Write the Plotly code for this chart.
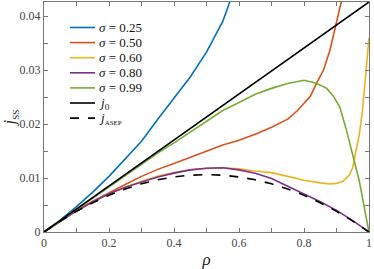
import plotly.graph_objects as go

# ---- data ----
rho_025 = [0, 0.05, 0.1, 0.15, 0.2, 0.25, 0.3, 0.35, 0.4, 0.45, 0.5, 0.55, 0.58]
j_025 = [0, 0.0022, 0.0047, 0.0074, 0.0103, 0.0136, 0.0168, 0.0209, 0.0248, 0.0287, 0.0333, 0.0390, 0.0440]

rho_050 = [0, 0.05, 0.1, 0.15, 0.2, 0.25, 0.3, 0.35, 0.4, 0.45, 0.5, 0.55, 0.6, 0.65, 0.7, 0.75, 0.78, 0.8, 0.82, 0.84, 0.86, 0.88, 0.9, 0.92]
j_050 = [0, 0.0020, 0.0040, 0.0057, 0.0073, 0.0088, 0.0103, 0.0116, 0.0127, 0.0138, 0.0150, 0.0161, 0.0170, 0.0181, 0.0194, 0.0209, 0.0225, 0.0238, 0.0252, 0.0277, 0.0300, 0.0337, 0.0390, 0.0440]

rho_060 = [0, 0.05, 0.1, 0.15, 0.2, 0.25, 0.3, 0.35, 0.4, 0.45, 0.5, 0.55, 0.6, 0.65, 0.7, 0.75, 0.8, 0.85, 0.88, 0.9, 0.92, 0.94, 0.95, 0.96, 0.97, 0.98, 0.99, 1.0]
j_060 = [0, 0.0020, 0.0039, 0.0056, 0.0071, 0.0083, 0.0094, 0.0103, 0.0110, 0.0115, 0.0118, 0.0119, 0.0117, 0.0113, 0.0110, 0.0103, 0.0096, 0.0091, 0.0089, 0.0090, 0.0094, 0.0106, 0.0120, 0.0150, 0.0180, 0.0225, 0.0300, 0.0360]

rho_080 = [0, 0.05, 0.1, 0.15, 0.2, 0.25, 0.3, 0.35, 0.4, 0.45, 0.5, 0.55, 0.6, 0.65, 0.7, 0.75, 0.8, 0.85, 0.9, 0.95, 1.0]
j_080 = [0, 0.0020, 0.0039, 0.0056, 0.0071, 0.0083, 0.0093, 0.0102, 0.0109, 0.0115, 0.0118, 0.0119, 0.0115, 0.0109, 0.0099, 0.0085, 0.0071, 0.0056, 0.0040, 0.0021, 0]

rho_099 = [0, 0.05, 0.1, 0.15, 0.2, 0.25, 0.3, 0.35, 0.4, 0.45, 0.5, 0.55, 0.6, 0.65, 0.7, 0.75, 0.8, 0.83, 0.85, 0.87, 0.89, 0.91, 0.93, 0.95, 0.97, 0.98, 0.99, 1.0]
j_099 = [0, 0.0021, 0.0042, 0.0063, 0.0084, 0.0105, 0.0126, 0.0146, 0.0165, 0.0185, 0.0204, 0.0225, 0.0240, 0.0255, 0.0266, 0.0275, 0.0281, 0.0277, 0.0272, 0.0266, 0.0252, 0.0232, 0.0190, 0.0145, 0.0095, 0.0063, 0.0030, 0]

rho_j0 = [0, 1]
j_0 = [0, 0.0426]

rho_asep = [0, 0.05, 0.1, 0.15, 0.2, 0.25, 0.3, 0.35, 0.4, 0.45, 0.5, 0.55, 0.6, 0.65, 0.7, 0.75, 0.8, 0.85, 0.9, 0.95, 1.0]
j_asep = [0, 0.00202, 0.00383, 0.00542, 0.0068, 0.00797, 0.00893, 0.00967, 0.0102, 0.01052, 0.01063, 0.01052, 0.0102, 0.00967, 0.00893, 0.00797, 0.0068, 0.00542, 0.00383, 0.00202, 0]

x_ticks = [0, 0.2, 0.4, 0.6, 0.8, 1]
x_labels = ["0", "0.2", "0.4", "0.6", "0.8", "1"]
y_ticks = [0, 0.01, 0.02, 0.03, 0.04]
y_labels = ["0", "0.01", "0.02", "0.03", "0.04"]

series_names = ["<i>σ</i> = 0.25", "<i>σ</i> = 0.50", "<i>σ</i> = 0.60", "<i>σ</i> = 0.80",
                "<i>σ</i> = 0.99", "<i>j</i><sub>0</sub>",
                "<i>j</i><sub><span style='font-size:7px'>ASEP</span></sub>"]
series_x = [rho_025, rho_050, rho_060, rho_080, rho_099, rho_j0, rho_asep]
series_y = [j_025, j_050, j_060, j_080, j_099, j_0, j_asep]
series_colors = ["#0072BD", "#D95319", "#EDB120", "#7E2F8E", "#77AC30", "#000000", "#000000"]
series_dash = ["solid"] * 6 + ["dash"]

FONT = "Liberation Serif"

fig = go.Figure()
for name, xs, ys, col, dash in zip(series_names, series_x, series_y, series_colors, series_dash):
    fig.add_trace(go.Scatter(x=xs, y=ys, mode="lines", name=name, showlegend=False,
                             line=dict(color=col, width=1.6, dash=dash)))

# legend drawn inside the axes (compact row spacing as in the reference)
L, T, PW, PH = 44, 2, 325, 230
row0, gap = 27.5, 15.1
for i, (name, col, dash) in enumerate(zip(series_names, series_colors, series_dash)):
    py = row0 + i * gap
    yp = (T + PH - py) / PH
    fig.add_shape(type="line", xref="paper", yref="paper",
                  x0=(70 - L) / PW, x1=(95 - L) / PW, y0=yp, y1=yp,
                  line=dict(color=col, width=1.6, dash=dash))
    fig.add_annotation(xref="paper", yref="paper", x=(97 - L) / PW, y=yp,
                       xanchor="left", yanchor="middle", showarrow=False, text=name,
                       font=dict(family=FONT, size=13, color="#111111"))

axis_common = dict(showline=True, mirror="ticks", linecolor="#777777", linewidth=1,
                   ticks="inside", ticklen=4, tickcolor="#777777", showgrid=False,
                   zeroline=False, tickfont=dict(family=FONT, size=12, color="#444444"))

fig.update_layout(
    width=374, height=269,
    margin=dict(l=44, r=5, t=2, b=37, autoexpand=False),
    paper_bgcolor="white", plot_bgcolor="white",
    font=dict(family=FONT, size=12, color="#222222"),
    xaxis=dict(range=[0, 1], tickvals=x_ticks, ticktext=x_labels,
               minor=dict(ticks="inside", ticklen=4, tickcolor="#777777", dtick=0.1),
               title=dict(text="<i>ρ</i>", font=dict(family=FONT, size=17, color="#222222"), standoff=4),
               **axis_common),
    yaxis=dict(range=[0, 0.0426], tickvals=y_ticks, ticktext=y_labels,
               minor=dict(ticks="inside", ticklen=4, tickcolor="#777777", dtick=0.005),
               title=dict(text="<i>j</i><sub><span style='font-size:9px'>SS</span></sub>",
                          font=dict(family=FONT, size=17, color="#222222"), standoff=2),
               **axis_common),
    showlegend=False,
)

fig.write_html("out.html", config={"displayModeBar": False},
               post_script="document.body.style.margin='0';document.body.style.overflow='hidden';")
